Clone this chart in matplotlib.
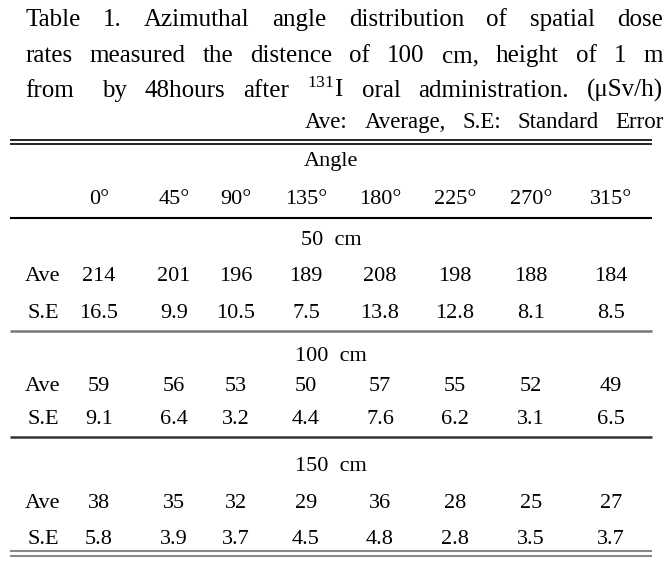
import matplotlib.pyplot as plt

plt.rcParams['font.family'] = ['Liberation Serif', 'DejaVu Serif']
plt.rcParams['mathtext.fontset'] = 'custom'
plt.rcParams['mathtext.rm'] = 'Liberation Serif'
plt.rcParams['mathtext.it'] = 'Liberation Serif'

# ---- data ----
angles = ["0°", "45°", "90°", "135°", "180°", "225°", "270°", "315°"]
sections = ["50  cm", "100  cm", "150  cm"]
ave_50 = ["214", "201", "196", "189", "208", "198", "188", "184"]
se_50 = ["16.5", "9.9", "10.5", "7.5", "13.8", "12.8", "8.1", "8.5"]
ave_100 = ["59", "56", "53", "50", "57", "55", "52", "49"]
se_100 = ["9.1", "6.4", "3.2", "4.4", "7.6", "6.2", "3.1", "6.5"]
ave_150 = ["38", "35", "32", "29", "36", "28", "25", "27"]
se_150 = ["5.8", "3.9", "3.7", "4.5", "4.8", "2.8", "3.5", "3.7"]
row_names = ["Ave", "S.E"]

title_lines = [
    "Table 1. Azimuthal angle distribution of spatial dose",
    "rates measured the distence of 100 cm, height of 1 m",
    "from  by 48hours after $^{131}$I oral administration. (\u03bcSv/h)",
]
note = "Ave: Average, S.E: Standard Error"

W, H = 672, 564
fig = plt.figure(figsize=(W / 100, H / 100), dpi=100)
ax = fig.add_axes([0, 0, 1, 1])
ax.set_xlim(0, W)
ax.set_ylim(H, 0)
ax.axis('off')

title_fs = 18
cell_fs = 16
renderer = fig.canvas.get_renderer()


def word_width(w, fs):
    t = ax.text(0, 0, w, fontsize=fs)
    bb = t.get_window_extent(renderer)
    t.remove()
    return bb.width


def justify(line, y, x0, x1, fs, extra=None):
    # spread words between x0 and x1 (baseline y)
    words = line.split()
    widths = [word_width(w, fs) for w in words]
    extra = extra or {}
    gap = (x1 - x0 - sum(widths) - sum(extra.values())) / (len(words) - 1)
    x = x0
    for i, (w, wd) in enumerate(zip(words, widths)):
        x += extra.get(i, 0)
        ax.text(x, y, w, fontsize=fs, va='baseline', ha='left')
        x += wd + gap


justify(title_lines[0], 26, 25, 663, title_fs)
justify(title_lines[1], 62, 25, 663, title_fs)
justify(title_lines[2], 97, 25, 663, title_fs, extra={1: 10})
justify(note, 128, 305, 664, 16.5)

# column positions
col_x = [99, 174, 236, 306, 380, 455, 531, 611]
label_x = 43

# rules
def rule(y, color='black', lw=1.5):
    ax.plot([10, 652], [y, y], color=color, lw=lw, solid_capstyle='butt')

rule(139.5, lw=1.2)
rule(143.5, lw=1.2)
rule(218, lw=1.5)
rule(331, color='#777777', lw=1.8)
rule(437, color='#333333', lw=1.8)
rule(551, color='#888888', lw=1.5)
rule(555.5, color='#888888', lw=1.5)

# header (baselines)
ax.text(331, 166, "Angle", fontsize=cell_fs, ha='center', va='baseline')
for x, a in zip(col_x, angles):
    ax.text(x, 204, a, fontsize=cell_fs, ha='center', va='baseline')

section_rows = [(ave_50, se_50), (ave_100, se_100), (ave_150, se_150)]
section_y = [245, 361, 471]
row_gap = [(36, 73), (30, 63), (37, 73)]
for name, (ave, se), y0, (g1, g2) in zip(sections, section_rows, section_y, row_gap):
    ax.text(331, y0, name, fontsize=cell_fs, ha='center', va='baseline')
    for rn, vals, dy in zip(row_names, [ave, se], [g1, g2]):
        ax.text(label_x, y0 + dy, rn, fontsize=cell_fs, ha='center', va='baseline')
        for x, v in zip(col_x, vals):
            ax.text(x, y0 + dy, v, fontsize=cell_fs, ha='center', va='baseline')

fig.savefig("out.png", dpi=100)
